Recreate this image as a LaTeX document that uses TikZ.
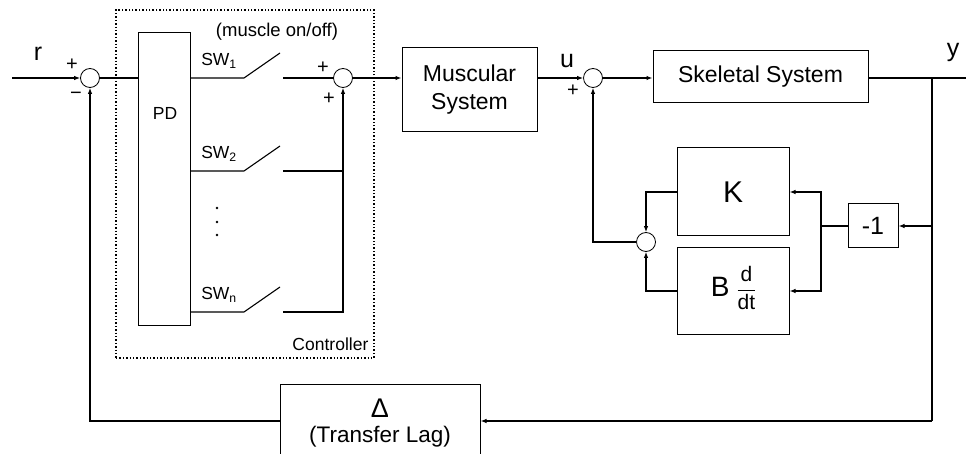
\documentclass[tikz,border=0pt]{standalone}
\usepackage{fontspec}
\setmainfont{Liberation Sans}
\usetikzlibrary{arrows.meta}

\tikzset{
  blk/.style={draw, line width=1pt, inner sep=0pt},
  sumpt/.style={draw, circle, line width=0.8pt, minimum size=19pt, inner sep=0pt},
  wire/.style={line width=1.1pt},
  sig/.style={wire, -{Latex[length=6pt,width=4.5pt]}},
  big/.style={font=\fontsize{23}{28}\selectfont},
  sml/.style={font=\fontsize{18.5}{21}\selectfont},
  sgn/.style={font=\fontsize{20}{22}\selectfont, inner sep=0pt},
  var/.style={font=\fontsize{25}{28}\selectfont, inner sep=0pt},
}

\begin{document}
\begin{tikzpicture}[x=1pt, y=-1pt]
  \clip (0,0) rectangle (966,454);

  % blocks
  \node[sumpt] (s1) at (90,78) {};
  \node[draw, line width=1.1pt, dash pattern=on 1.4pt off 2pt,
        minimum width=258pt, minimum height=348pt] (ctrl) at (245,184) {};
  \node[blk, minimum width=52pt, minimum height=292pt] (pd) at (164,179) {};
  \node[font=\fontsize{17.5}{20}\selectfont] (pdtxt) at (165,113) {PD};
  \node[sumpt] (s2) at (343,78) {};
  \node[blk, big, align=center, minimum width=135pt, minimum height=84pt] (mus) at (469.5,90) {Muscular\\System};
  \node[sumpt] (s3) at (593,78) {};
  \node[blk, big, minimum width=215pt, minimum height=52pt] (skel) at (760.5,77) {Skeletal System};
  \node[blk, font=\fontsize{30}{34}\selectfont, minimum width=112pt, minimum height=88pt] (kb) at (733,192) {K};
  \node[blk, minimum width=112pt, minimum height=86pt] (bb) at (733,291)
    {{\fontsize{28}{30}\selectfont B}\hspace{8pt}%
     {\fontsize{21}{23}\selectfont\begin{tabular}{@{}c@{}}d\\[1pt]\hline\rule{0pt}{19pt}dt\end{tabular}}};
  \node[sumpt] (s4) at (646,242) {};
  \node[blk, font=\fontsize{25}{28}\selectfont, minimum width=50pt, minimum height=44pt] (neg) at (873,226) {-1};
  \node[blk, anchor=north, minimum width=200pt, minimum height=100pt] (dl) at (380,384) {};
  \node[font=\fontsize{27}{30}\selectfont] (dltxt) at (380,408) {Δ};
  \node[font=\fontsize{22.5}{25}\selectfont] (lagtxt) at (380,437) {(Transfer Lag)};

  % texts
  \node[var] (rlab) at (38,54) {r};
  \node[var] (ulab) at (567,61) {u};
  \node[var] (ylab) at (953,52) {y};
  \node[sgn] (p1) at (72,65) {+};
  \node[sgn] (m1) at (76,96) {−};
  \node[sgn] (p2) at (323,68) {+};
  \node[sgn] (p3) at (329,99) {+};
  \node[sgn] (p4) at (573,91) {+};
  \node[sml] (onoff) at (277,32) {(muscle on/off)};
  \node[font=\fontsize{17.5}{20}\selectfont, anchor=south east, inner sep=0pt] (ctrltxt)
    at ([xshift=-6pt, yshift=8pt]ctrl.south east) {Controller};

  \coordinate (in) at (12,78);
  \coordinate (out) at (966,78);
  \coordinate (br) at (932,78);
  \coordinate (bot) at (932,421);
  \coordinate (split) at (821,226);

  % switches
  \foreach \k/\yy in {1/78, 2/171, n/312}{
    \coordinate (sw\k) at (244,\yy);
    \coordinate (ct\k) at (283,\yy);
    \draw[wire] (pd.east |- sw\k) -- (sw\k) -- ++(36,-25);
    \node[font=\fontsize{17.5}{20}\selectfont] (lab\k) at (219,\yy-17) {SW\textsubscript{\k}};
  }
  \foreach \yy in {208, 222, 235}
    \fill (217,\yy) circle (1.3pt);

  % signal lines
  \draw[sig] (in) -- (s1);
  \draw[wire] (s1) -- (s1 -| pd.west);
  \draw[wire] (ct1) -- (s2);
  \draw[wire] (ct2) -- (ct2 -| s2);
  \draw[sig] (ctn) -- (ctn -| s2) -- (s2);
  \draw[sig] (s2) -- (s2 -| mus.west);
  \draw[sig] (mus.east |- s3) -- (s3);
  \draw[sig] (s3) -- (s3 -| skel.west);
  \draw[wire] (skel.east |- br) -- (out);
  \draw[wire] (br) -- (bot);
  \draw[sig] (bot) -- (bot -| dl.east);
  \draw[sig] (dl.west |- bot) -| (s1);
  \draw[sig] (br |- neg) -- (neg);
  \draw[wire] (neg) -- (split);
  \draw[sig] (split) |- (kb);
  \draw[sig] (split) |- (bb);
  \draw[sig] (kb) -| (s4);
  \draw[sig] (bb) -| (s4);
  \draw[sig] (s4) -| (s3);
\end{tikzpicture}
\end{document}
